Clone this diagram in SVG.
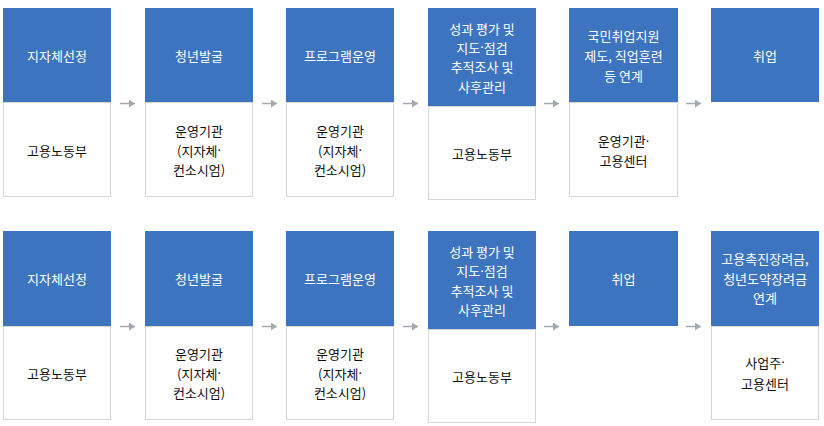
<svg xmlns="http://www.w3.org/2000/svg" width="824" height="426" viewBox="0 0 824 426">
<defs>
<style>
.hd{fill:#3d74bf}
.bd{fill:#fff;stroke:#d6d6d6;stroke-width:1}
.t{font-family:"Noto Sans CJK KR","Noto Sans",sans-serif;font-size:13px;text-anchor:middle;dominant-baseline:central}
.d{font-family:"Noto Sans","DejaVu Sans",sans-serif}
.w{fill:#fff}
.k{fill:#111}
.ar{stroke:#a3a8b0;stroke-width:1.5;fill:none}
.ah{fill:#a3a8b0}
</style>
<marker id="m" viewBox="0 0 6 8" refX="6" refY="4" markerWidth="6" markerHeight="8" markerUnits="userSpaceOnUse" orient="auto"><path d="M0,0 L6,4 L0,8 Z" class="ah"/></marker>
</defs>
<rect width="824" height="426" fill="#fff"/>

<g id="r1n1">
<rect class="bd" x="3.5" y="102.5" width="107" height="94"/>
<rect class="hd" x="3" y="8" width="108" height="94"/>
<text class="t w" x="57" y="55">지자체선정</text>
<text class="t k" x="57" y="150">고용노동부</text>
</g>
<g id="r1n2">
<rect class="bd" x="145.5" y="102.5" width="107" height="94"/>
<rect class="hd" x="145" y="8" width="108" height="94"/>
<text class="t w" x="199" y="55">청년발굴</text>
<text class="t k" x="199" y="130.5">운영기관</text>
<text class="t k" x="199" y="150">(지자체<tspan class="d">·</tspan></text>
<text class="t k" x="199" y="169.5">컨소시엄)</text>
</g>
<g id="r1n3">
<rect class="bd" x="286.5" y="102.5" width="107" height="94"/>
<rect class="hd" x="286" y="8" width="108" height="94"/>
<text class="t w" x="340" y="55">프로그램운영</text>
<text class="t k" x="340" y="130.5">운영기관</text>
<text class="t k" x="340" y="150">(지자체<tspan class="d">·</tspan></text>
<text class="t k" x="340" y="169.5">컨소시엄)</text>
</g>
<g id="r1n4">
<rect class="bd" x="428.5" y="106.5" width="107" height="93"/>
<rect class="hd" x="428" y="8" width="108" height="98"/>
<text class="t w" x="482" y="28">성과 평가 및</text>
<text class="t w" x="482" y="47.3">지도<tspan class="d">·</tspan>점검</text>
<text class="t w" x="482" y="66.7">추적조사 및</text>
<text class="t w" x="482" y="86">사후관리</text>
<text class="t k" x="482" y="153">고용노동부</text>
</g>
<g id="r1n5">
<rect class="bd" x="569.5" y="102.5" width="108" height="94"/>
<rect class="hd" x="569" y="8" width="109" height="94"/>
<text class="t w" x="623.5" y="35">국민취업지원</text>
<text class="t w" x="623.5" y="55">제도, 직업훈련</text>
<text class="t w" x="623.5" y="75">등 연계</text>
<text class="t k" x="623.5" y="140.5">운영기관<tspan class="d">·</tspan></text>
<text class="t k" x="623.5" y="160">고용센터</text>
</g>
<g id="r1n6">
<rect class="hd" x="711" y="8" width="108" height="94"/>
<text class="t w" x="765" y="55">취업</text>
</g>

<g id="r2n1">
<rect class="bd" x="3.5" y="326.5" width="107" height="93"/>
<rect class="hd" x="3" y="231" width="108" height="95"/>
<text class="t w" x="57" y="278">지자체선정</text>
<text class="t k" x="57" y="373">고용노동부</text>
</g>
<g id="r2n2">
<rect class="bd" x="145.5" y="326.5" width="107" height="93"/>
<rect class="hd" x="145" y="231" width="108" height="95"/>
<text class="t w" x="199" y="278">청년발굴</text>
<text class="t k" x="199" y="353.5">운영기관</text>
<text class="t k" x="199" y="373">(지자체<tspan class="d">·</tspan></text>
<text class="t k" x="199" y="392.5">컨소시엄)</text>
</g>
<g id="r2n3">
<rect class="bd" x="286.5" y="326.5" width="107" height="93"/>
<rect class="hd" x="286" y="231" width="108" height="95"/>
<text class="t w" x="340" y="278">프로그램운영</text>
<text class="t k" x="340" y="353.5">운영기관</text>
<text class="t k" x="340" y="373">(지자체<tspan class="d">·</tspan></text>
<text class="t k" x="340" y="392.5">컨소시엄)</text>
</g>
<g id="r2n4">
<rect class="bd" x="428.5" y="329.5" width="107" height="93"/>
<rect class="hd" x="428" y="231" width="108" height="98"/>
<text class="t w" x="482" y="251.5">성과 평가 및</text>
<text class="t w" x="482" y="270.8">지도<tspan class="d">·</tspan>점검</text>
<text class="t w" x="482" y="290.2">추적조사 및</text>
<text class="t w" x="482" y="309.5">사후관리</text>
<text class="t k" x="482" y="376">고용노동부</text>
</g>
<g id="r2n5">
<rect class="hd" x="569" y="231" width="109" height="95"/>
<text class="t w" x="623.5" y="278">취업</text>
</g>
<g id="r2n6">
<rect class="bd" x="711.5" y="326.5" width="107" height="93"/>
<rect class="hd" x="711" y="231" width="108" height="95"/>
<text class="t w" x="765" y="258.5">고용촉진장려금,</text>
<text class="t w" x="765" y="278">청년도약장려금</text>
<text class="t w" x="765" y="297.5">연계</text>
<text class="t k" x="765" y="362">사업주<tspan class="d">·</tspan></text>
<text class="t k" x="765" y="383">고용센터</text>
</g>

<g id="connectors">
<line class="ar" x1="120" y1="103.5" x2="135" y2="103.5" marker-end="url(#m)"/>
<line class="ar" x1="262" y1="103.5" x2="277" y2="103.5" marker-end="url(#m)"/>
<line class="ar" x1="403" y1="103.5" x2="418" y2="103.5" marker-end="url(#m)"/>
<line class="ar" x1="544" y1="103.5" x2="559" y2="103.5" marker-end="url(#m)"/>
<line class="ar" x1="686" y1="103.5" x2="701" y2="103.5" marker-end="url(#m)"/>
<line class="ar" x1="120" y1="326.5" x2="135" y2="326.5" marker-end="url(#m)"/>
<line class="ar" x1="262" y1="326.5" x2="277" y2="326.5" marker-end="url(#m)"/>
<line class="ar" x1="403" y1="326.5" x2="418" y2="326.5" marker-end="url(#m)"/>
<line class="ar" x1="544" y1="326.5" x2="559" y2="326.5" marker-end="url(#m)"/>
<line class="ar" x1="686" y1="326.5" x2="701" y2="326.5" marker-end="url(#m)"/>
</g>
</svg>
